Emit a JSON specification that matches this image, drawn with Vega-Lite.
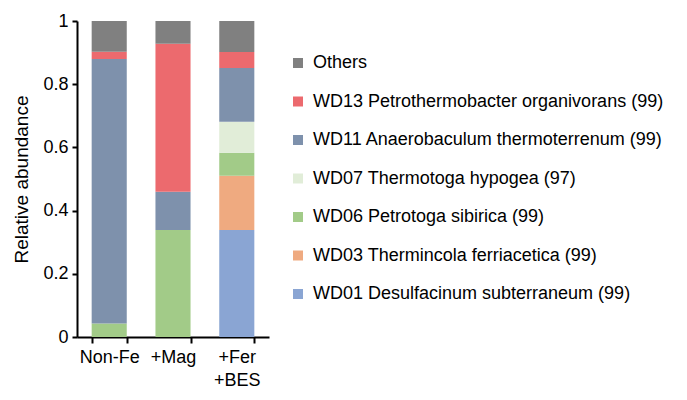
{
  "$schema": "https://vega.github.io/schema/vega-lite/v6.json",
  "width": 192,
  "height": 316,
  "autosize": {"type": "none"},
  "padding": {"left": 77, "top": 21, "right": 418, "bottom": 63},
  "background": "white",
  "config": {
    "font": "Liberation Sans",
    "view": {"stroke": null}
  },
  "data": {
    "values": [
      {"sample": "Non-Fe", "taxon": "WD06 Petrotoga sibirica (99)", "rank": 3, "abundance": 0.043},
      {"sample": "Non-Fe", "taxon": "WD11 Anaerobaculum thermoterrenum (99)", "rank": 5, "abundance": 0.837},
      {"sample": "Non-Fe", "taxon": "WD13 Petrothermobacter organivorans (99)", "rank": 6, "abundance": 0.023},
      {"sample": "Non-Fe", "taxon": "Others", "rank": 7, "abundance": 0.097},
      {"sample": "+Mag", "taxon": "WD06 Petrotoga sibirica (99)", "rank": 3, "abundance": 0.339},
      {"sample": "+Mag", "taxon": "WD11 Anaerobaculum thermoterrenum (99)", "rank": 5, "abundance": 0.121},
      {"sample": "+Mag", "taxon": "WD13 Petrothermobacter organivorans (99)", "rank": 6, "abundance": 0.468},
      {"sample": "+Mag", "taxon": "Others", "rank": 7, "abundance": 0.072},
      {"sample": "+Fer+BES", "taxon": "WD01 Desulfacinum subterraneum (99)", "rank": 1, "abundance": 0.339},
      {"sample": "+Fer+BES", "taxon": "WD03 Thermincola ferriacetica (99)", "rank": 2, "abundance": 0.171},
      {"sample": "+Fer+BES", "taxon": "WD06 Petrotoga sibirica (99)", "rank": 3, "abundance": 0.073},
      {"sample": "+Fer+BES", "taxon": "WD07 Thermotoga hypogea (97)", "rank": 4, "abundance": 0.098},
      {"sample": "+Fer+BES", "taxon": "WD11 Anaerobaculum thermoterrenum (99)", "rank": 5, "abundance": 0.170},
      {"sample": "+Fer+BES", "taxon": "WD13 Petrothermobacter organivorans (99)", "rank": 6, "abundance": 0.051},
      {"sample": "+Fer+BES", "taxon": "Others", "rank": 7, "abundance": 0.098}
    ]
  },
  "mark": {"type": "bar"},
  "encoding": {
    "x": {
      "field": "sample",
      "type": "nominal",
      "sort": ["Non-Fe", "+Mag", "+Fer+BES"],
      "scale": {"paddingInner": 0.45, "paddingOuter": 0.23},
      "axis": {
        "title": null,
        "labelAngle": 0,
        "labelFontSize": 18,
        "labelColor": "black",
        "labelPadding": 5,
        "labelLineHeight": 23,
        "labelExpr": "datum.label == '+Fer+BES' ? ['+Fer', '+BES'] : datum.label",
        "tickBand": "extent",
        "tickSize": 6,
        "tickWidth": 2,
        "tickColor": "black",
        "domainColor": "black",
        "domainWidth": 2
      }
    },
    "y": {
      "field": "abundance",
      "type": "quantitative",
      "stack": "zero",
      "scale": {"domain": [0, 1], "nice": false},
      "axis": {
        "title": "Relative abundance",
        "titleFontSize": 19,
        "titleFontWeight": "normal",
        "titleColor": "black",
        "titlePadding": 11,
        "values": [0, 0.2, 0.4, 0.6, 0.8, 1],
        "labelExpr": "'' + datum.value",
        "labelFontSize": 18,
        "labelColor": "black",
        "labelPadding": 4,
        "tickSize": 5,
        "tickWidth": 2,
        "tickColor": "black",
        "domainColor": "black",
        "domainWidth": 2,
        "grid": false
      }
    },
    "color": {
      "field": "taxon",
      "type": "nominal",
      "scale": {
        "domain": [
          "Others",
          "WD13 Petrothermobacter organivorans (99)",
          "WD11 Anaerobaculum thermoterrenum (99)",
          "WD07 Thermotoga hypogea (97)",
          "WD06 Petrotoga sibirica (99)",
          "WD03 Thermincola ferriacetica (99)",
          "WD01 Desulfacinum subterraneum (99)"
        ],
        "range": ["#808080", "#EC6A6E", "#7E91AC", "#E1EDD8", "#A2CB88", "#EFAA80", "#8AA5D3"]
      },
      "legend": {
        "title": null,
        "orient": "none",
        "legendX": 212,
        "legendY": 33,
        "symbolType": "square",
        "symbolSize": 100,
        "symbolStrokeWidth": 0,
        "labelFontSize": 18,
        "labelColor": "black",
        "labelOffset": 6,
        "labelLimit": 400,
        "rowPadding": 20.5
      }
    },
    "order": {"field": "rank", "type": "quantitative", "sort": "ascending"}
  }
}
